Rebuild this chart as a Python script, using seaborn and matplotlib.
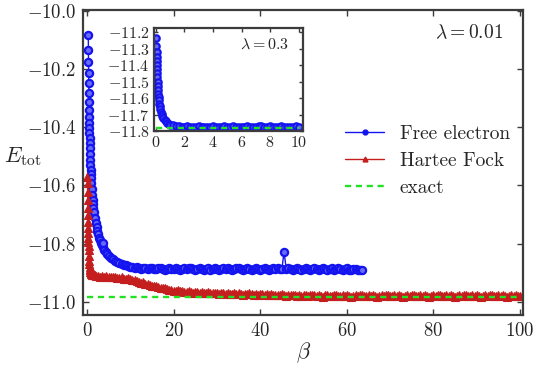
import numpy as np
import pandas as pd
import matplotlib
matplotlib.use("Agg")
import matplotlib.pyplot as plt
from matplotlib.lines import Line2D
import seaborn as sns

# ---------------------------------------------------------------- data
# Total energy vs. beta, lambda = 0.01 (main panel)
fe_beta = np.concatenate([
    [0.300, 0.325, 0.350, 0.375, 0.400, 0.425, 0.450, 0.475, 0.500, 0.525,
     0.550, 0.575, 0.600, 0.625, 0.650, 0.70, 0.75, 0.80, 0.85, 0.90,
     0.95, 1.00, 1.1, 1.2, 1.3, 1.4, 1.5, 1.6, 1.8, 2.0,
     2.2, 2.4, 2.6, 2.8, 3.0, 3.2, 3.4, 3.6, 3.8, 4.0,
     4.3, 4.6, 5.0, 5.5, 6.0, 6.5, 7.0, 7.5, 8.0, 8.5,
     9.0, 9.5, 10.0],
    np.arange(10.5, 63.51, 0.5),
])
fe_energy = [
    -10.082, -10.134, -10.175, -10.213, -10.247, -10.282, -10.313, -10.340, -10.364, -10.385,
    -10.402, -10.419, -10.436, -10.454, -10.470, -10.492, -10.512, -10.530, -10.546, -10.562,
    -10.576, -10.590, -10.612, -10.632, -10.650, -10.665, -10.679, -10.692, -10.712, -10.728,
    -10.742, -10.756, -10.768, -10.779, -10.789, -10.797, -10.805, -10.811, -10.799, -10.822,
    -10.829, -10.835, -10.842, -10.848, -10.854, -10.859, -10.864, -10.867, -10.870, -10.873,
    -10.875, -10.877, -10.879,
    -10.881, -10.883, -10.880, -10.884, -10.886, -10.883, -10.885, -10.887, -10.884, -10.882,
    -10.886, -10.888, -10.885, -10.883, -10.887, -10.889, -10.886, -10.884, -10.888, -10.886,
    -10.883, -10.887, -10.890, -10.886, -10.884, -10.888, -10.885, -10.883, -10.887, -10.889,
    -10.886, -10.884, -10.888, -10.891, -10.887, -10.885, -10.889, -10.886, -10.883, -10.887,
    -10.890, -10.886, -10.884, -10.888, -10.885, -10.887, -10.891, -10.888, -10.885, -10.883,
    -10.887, -10.889, -10.886, -10.884, -10.888, -10.890, -10.887, -10.884, -10.886, -10.889,
    -10.887, -10.883, -10.886, -10.890, -10.888, -10.885, -10.887, -10.884, -10.886, -10.888,
    -10.828, -10.886, -10.883, -10.887, -10.889, -10.886, -10.884, -10.888, -10.891, -10.887,
    -10.885, -10.888, -10.890, -10.886, -10.884, -10.887, -10.889, -10.886, -10.884, -10.888,
    -10.891, -10.887, -10.885, -10.889, -10.886, -10.884, -10.888, -10.890, -10.887, -10.885,
    -10.889, -10.891, -10.888, -10.886, -10.889, -10.891, -10.890,
]

hf_beta = np.concatenate([
    [0.100, 0.125, 0.150, 0.175, 0.200, 0.225, 0.250, 0.275, 0.300, 0.325,
     0.350, 0.375, 0.400, 0.450, 0.500, 0.550, 0.600, 0.650, 0.700, 0.800,
     0.900, 1.000, 1.2, 1.4, 1.6, 1.8, 2.0],
    np.arange(2.5, 100.01, 0.5),
])
hf_energy = [
    -10.570, -10.591, -10.622, -10.649, -10.677, -10.701, -10.725, -10.746, -10.763, -10.780,
    -10.795, -10.809, -10.821, -10.842, -10.858, -10.870, -10.880, -10.887, -10.892, -10.898,
    -10.901, -10.903, -10.906, -10.907, -10.908, -10.909, -10.910,
    -10.911, -10.913, -10.910, -10.914, -10.912, -10.915, -10.913, -10.916, -10.914, -10.917,
    -10.919, -10.916, -10.920, -10.922, -10.919, -10.923, -10.926, -10.924, -10.928, -10.931,
    -10.934, -10.932, -10.937, -10.939, -10.941, -10.944, -10.946, -10.945, -10.949, -10.952,
    -10.954, -10.953, -10.957, -10.959, -10.958, -10.961, -10.963, -10.960, -10.964, -10.962,
    -10.965, -10.967, -10.964, -10.966, -10.968, -10.965, -10.967, -10.969, -10.966, -10.968,
    -10.970, -10.967, -10.969, -10.971, -10.968, -10.970, -10.972, -10.969, -10.971, -10.973,
    -10.970, -10.972, -10.974, -10.971, -10.973, -10.970, -10.972, -10.975, -10.972, -10.974,
    -10.971, -10.973, -10.976, -10.973, -10.975, -10.972, -10.974, -10.977, -10.974, -10.976,
    -10.973, -10.975, -10.978, -10.975, -10.977, -10.974, -10.976, -10.979, -10.976, -10.978,
    -10.975, -10.977, -10.980, -10.977, -10.979, -10.976, -10.978, -10.981, -10.978, -10.976,
    -10.978, -10.980, -10.977, -10.979, -10.982, -10.978, -10.976, -10.979, -10.981, -10.978,
    -10.976, -10.979, -10.981, -10.978, -10.980, -10.977, -10.979, -10.982, -10.979, -10.977,
    -10.980, -10.978, -10.976, -10.979, -10.981, -10.978, -10.980, -10.977, -10.979, -10.982,
    -10.979, -10.977, -10.980, -10.978, -10.976, -10.979, -10.981, -10.978, -10.980, -10.977,
    -10.979, -10.982, -10.979, -10.977, -10.980, -10.978, -10.976, -10.979, -10.981, -10.978,
    -10.980, -10.977, -10.979, -10.982, -10.979, -10.977, -10.980, -10.978, -10.976, -10.979,
    -10.981, -10.978, -10.980, -10.977, -10.979, -10.982, -10.979, -10.977, -10.980, -10.978,
    -10.976, -10.979, -10.981, -10.978, -10.980, -10.977, -10.979, -10.982, -10.979, -10.977,
    -10.980, -10.978, -10.976, -10.979, -10.981, -10.978, -10.980, -10.977, -10.979, -10.982,
    -10.979, -10.977, -10.980, -10.978, -10.980, -10.979,
]

exact_beta = [0.0, 100.0]
exact_energy = [-10.983, -10.983]

# Inset: free-electron start, lambda = 0.3
inset_beta = np.concatenate([
    [0.02, 0.03, 0.04, 0.05, 0.06, 0.07, 0.08, 0.09, 0.10, 0.11,
     0.12, 0.14, 0.16, 0.18, 0.20, 0.23, 0.26, 0.30, 0.35, 0.40,
     0.45, 0.50, 0.60, 0.70, 0.80, 0.90, 1.00, 1.2, 1.4, 1.6],
    np.arange(1.8, 10.01, 0.2),
])
inset_energy = [
    -11.236, -11.285, -11.321, -11.352, -11.376, -11.400, -11.424, -11.448, -11.473, -11.500,
    -11.527, -11.552, -11.575, -11.596, -11.614, -11.634, -11.650, -11.665, -11.683, -11.698,
    -11.709, -11.718, -11.732, -11.742, -11.750, -11.756, -11.761, -11.766, -11.769, -11.771,
    -11.773, -11.775, -11.772, -11.774, -11.776, -11.773, -11.771, -11.774, -11.776, -11.773,
    -11.775, -11.772, -11.774, -11.777, -11.774, -11.772, -11.775, -11.773, -11.771, -11.774,
    -11.776, -11.773, -11.775, -11.772, -11.774, -11.777, -11.774, -11.772, -11.768, -11.773,
    -11.775, -11.772, -11.774, -11.776, -11.773, -11.771, -11.774, -11.776, -11.773, -11.775,
    -11.772, -11.774,
]
inset_exact_beta = [0.0, 10.0]
inset_exact_energy = [-11.782, -11.782]

main_xticks = [0, 20, 40, 60, 80, 100]
main_yticks = [-11.0, -10.8, -10.6, -10.4, -10.2, -10.0]
inset_xticks = [0, 2, 4, 6, 8, 10]
inset_yticks = [-11.8, -11.7, -11.6, -11.5, -11.4, -11.3, -11.2]

# ---------------------------------------------------------------- style
sns.set_style("ticks")
plt.rcParams.update({
    "font.family": "serif",
    "font.serif": ["cmr10"],
    "mathtext.fontset": "cm",
    "axes.formatter.use_mathtext": True,
    "axes.unicode_minus": True,
    "font.size": 14,
})

BLUE = "#1414f0"
BLUE_FACE = "#6a6af6"
RED = "#c41e1e"
GREEN = "#22e022"
SPINE = "#3c3c3c"

fig = plt.figure(figsize=(5.36, 3.65), dpi=100)
ax = fig.add_axes([0.155, 0.137, 0.821, 0.836])
axin = fig.add_axes([0.287, 0.641, 0.278, 0.282])


def free_electron_line(axis, x, y, ms):
    sns.lineplot(x=x, y=y, ax=axis, color=BLUE, lw=1.0, marker="o",
                 markersize=ms, markeredgecolor=BLUE,
                 markerfacecolor=BLUE_FACE, markeredgewidth=1.6,
                 estimator=None, sort=False, legend=False)


def exact_line(axis, x, y):
    sns.lineplot(x=x, y=y, ax=axis, color=GREEN, lw=1.7,
                 linestyle=(0, (2.6, 2.0)), estimator=None, sort=False,
                 legend=False)


# main panel
free_electron_line(ax, fe_beta, fe_energy, 5.2)
sns.lineplot(x=hf_beta, y=hf_energy, ax=ax, color=RED, lw=1.0, marker="^",
             markersize=5.6, markeredgecolor=RED, markerfacecolor=RED,
             markeredgewidth=0.8, estimator=None, sort=False, legend=False)
exact_line(ax, exact_beta, exact_energy)

ax.set_xlim(-0.9, 100.7)
ax.set_ylim(-11.045, -9.997)
ax.set_xticks(main_xticks)
ax.set_yticks(main_yticks)
ax.yaxis.set_major_formatter(matplotlib.ticker.FormatStrFormatter(r"$%.1f$"))
ax.xaxis.set_major_formatter(matplotlib.ticker.FormatStrFormatter(r"$%d$"))
ax.tick_params(direction="in", top=True, right=True, length=4, width=1.0,
               color=SPINE, labelsize=13.5, pad=5)
ax.set_xlabel(r"$\beta$", fontsize=16, labelpad=0)
ax.set_ylabel(r"$E_{\rm tot}$", fontsize=16, rotation=0, va="center",
              ha="center")
ax.yaxis.set_label_coords(-0.137, 0.52)
ax.text(0.955, 0.925, r"$\lambda = 0.01$", transform=ax.transAxes,
        ha="right", va="center", fontsize=14)

handles = [
    Line2D([], [], color=BLUE, lw=1.0, marker="o", markersize=3.5,
           markerfacecolor=BLUE, markeredgecolor=BLUE),
    Line2D([], [], color=RED, lw=1.0, marker="^", markersize=3.5,
           markerfacecolor=RED, markeredgecolor=RED),
    Line2D([], [], color=GREEN, lw=1.7, linestyle=(0, (2.6, 2.0))),
]
ax.legend(handles, ["Free electron", "Hartee Fock", "exact"],
          loc="center left", bbox_to_anchor=(0.596, 0.505), frameon=False,
          borderpad=0, borderaxespad=0, handlelength=2.0,
          handletextpad=0.8, labelspacing=0.45, fontsize=14)

# inset panel
free_electron_line(axin, inset_beta, inset_energy, 4.6)
exact_line(axin, inset_exact_beta, inset_exact_energy)
axin.set_xlim(-0.15, 10.3)
axin.set_ylim(-11.8, -11.175)
axin.set_xticks(inset_xticks)
axin.set_yticks(inset_yticks)
axin.yaxis.set_major_formatter(matplotlib.ticker.FormatStrFormatter(r"$%.1f$"))
axin.xaxis.set_major_formatter(matplotlib.ticker.FormatStrFormatter(r"$%d$"))
axin.tick_params(direction="in", top=True, right=True, length=3, width=1.0,
                 color=SPINE, labelsize=11.5, pad=3)
axin.text(0.91, 0.835, r"$\lambda = 0.3$", transform=axin.transAxes,
          ha="right", va="center", fontsize=11.5)
axin.set_xlabel("")
axin.set_ylabel("")

for a in (ax, axin):
    for s in a.spines.values():
        s.set_color(SPINE)
        s.set_linewidth(1.6)

fig.savefig("out.png", dpi=100)
